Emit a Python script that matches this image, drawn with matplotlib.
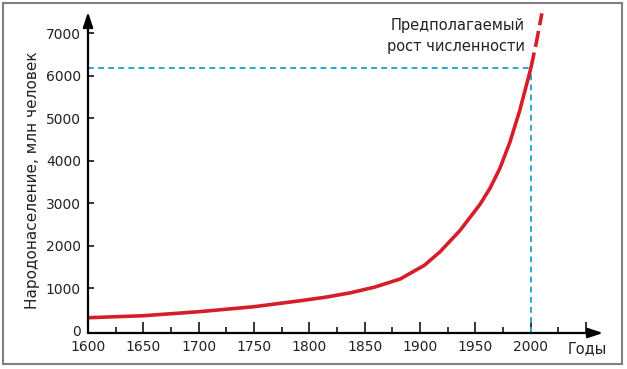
import matplotlib
matplotlib.use("Agg")
import matplotlib.pyplot as plt
from matplotlib.patches import Rectangle

# ---- data ----
years = [1600, 1650, 1700, 1750, 1792, 1814, 1837, 1859, 1882, 1904, 1918, 1936,
         1954, 1963, 1972, 1981, 1990, 2000]
population = [310, 357, 451, 569, 710, 790, 895, 1030, 1220, 1545, 1860, 2360,
              2971, 3347, 3817, 4428, 5180, 6170]
proj_years = [2000, 2005, 2010]
proj_population = [6170, 6780, 7464]
marker_year = 2000
marker_value = 6170
xtick_major = list(range(1600, 2051, 50))
xtick_labels = [str(y) if y <= 2000 else "" for y in xtick_major]
xtick_minor = list(range(1625, 2050, 50))
ytick_vals = list(range(0, 7001, 1000))
ytick_labels = [str(v) for v in ytick_vals]

RED = "#d41f2b"
CYAN = "#2ba6d4"

fig = plt.figure(figsize=(6.27, 3.69), dpi=100)
ax = fig.add_axes([88 / 627, 36 / 369, 515 / 627, 321 / 369])
ax.set_xlim(1600, 2065.2)
ax.set_ylim(-49, 7495)

for s in ax.spines.values():
    s.set_visible(False)

# axes with arrow heads
ax.annotate("", xy=(0, 1), xytext=(0, 0), xycoords="axes fraction",
            arrowprops=dict(arrowstyle="-|>,head_length=0.9,head_width=0.3", lw=1.6, color="black",
                            shrinkA=0, shrinkB=0), zorder=5)
ax.annotate("", xy=(1, 0), xytext=(0, 0), xycoords="axes fraction",
            arrowprops=dict(arrowstyle="-|>,head_length=0.9,head_width=0.3", lw=1.6, color="black",
                            shrinkA=0, shrinkB=0), zorder=5)

# dashed guide lines
ax.plot([1600, marker_year], [marker_value, marker_value], color=CYAN, lw=1.4, dashes=(3, 2.2), zorder=2)
ax.plot([marker_year, marker_year], [-49, marker_value], color=CYAN, lw=1.4, dashes=(3, 2.2), zorder=2)

# population curve
ax.plot(years, population, color=RED, lw=2.6, solid_capstyle="butt", solid_joinstyle="round", zorder=3)
ax.plot(proj_years, proj_population, color=RED, lw=2.6, dashes=(4.5, 1.6), zorder=3)

# ticks
ax.set_xticks(xtick_major)
ax.set_xticklabels(xtick_labels)
ax.set_xticks(xtick_minor, minor=True)
ax.tick_params(axis="x", which="major", direction="in", length=7.9, width=1.1, pad=5, labelsize=10)
ax.tick_params(axis="x", which="minor", direction="in", length=4.3, width=1.1)
ax.set_yticks(ytick_vals)
ax.set_yticklabels(ytick_labels)
ax.tick_params(axis="y", which="major", direction="in", length=4.3, width=1.1, pad=5, labelsize=10)
ax.yaxis.get_major_ticks()[0].tick1line.set_visible(False)
ax.xaxis.get_major_ticks()[0].tick1line.set_visible(False)
for lab in ax.get_xticklabels() + ax.get_yticklabels():
    lab.set_color("#222222")

# labels
fig.text(33 / 627, 1 - 180 / 369, "Народонаселение, млн человек", rotation=90,
         ha="center", va="center", fontsize=11, color="#222222")
fig.text(587 / 627, 1 - 349 / 369, "Годы", ha="center", va="center", fontsize=10.5, color="#222222")
fig.text(525 / 627, 1 - 36 / 369, "Предполагаемый\nрост численности", ha="right", va="center",
         multialignment="right", linespacing=1.45, fontsize=10.5, color="#222222")

# outer frame
fig.patches.append(Rectangle((3 / 627, 5 / 369), 619 / 627, 361 / 369, transform=fig.transFigure,
                             fill=False, edgecolor="#808080", lw=1.5))

fig.savefig("out.png", dpi=100)
